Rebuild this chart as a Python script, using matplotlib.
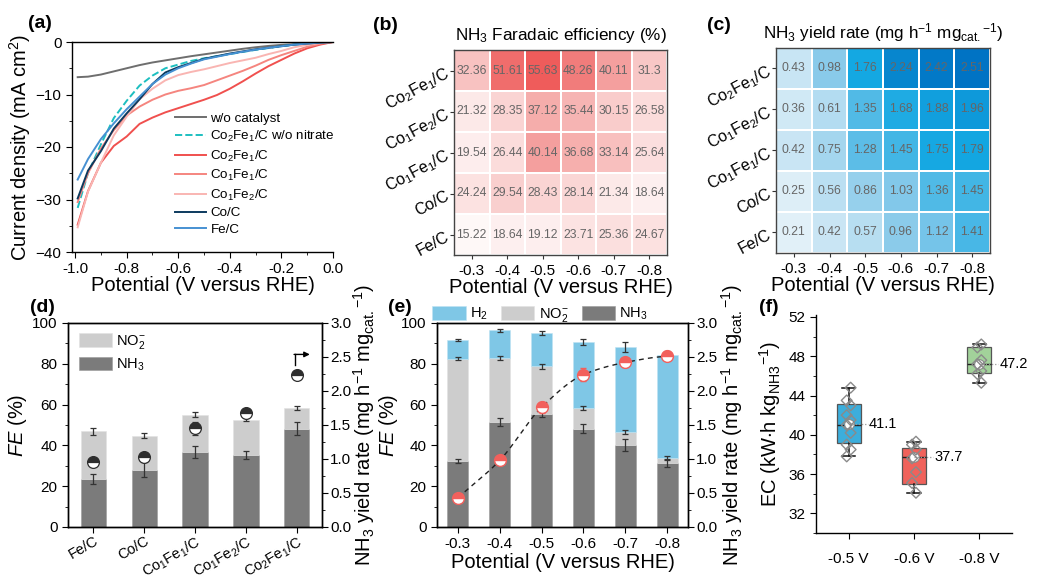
import numpy as np
import matplotlib
matplotlib.use('Agg')
import matplotlib.pyplot as plt
from matplotlib.colors import LinearSegmentedColormap, Normalize
from matplotlib.ticker import MultipleLocator

plt.rcParams['font.family'] = ['Liberation Sans', 'DejaVu Sans']
plt.rcParams['mathtext.fontset'] = 'custom'
plt.rcParams['mathtext.rm'] = 'Liberation Sans'
plt.rcParams['mathtext.it'] = 'Liberation Sans:italic'
plt.rcParams['mathtext.bf'] = 'Liberation Sans:bold'
plt.rcParams['xtick.direction'] = 'out'
plt.rcParams['ytick.direction'] = 'out'
plt.rcParams['axes.linewidth'] = 1.0

# ---------------- data ----------------
# (a) LSV curves
lsv_potential = [-0.99, -0.95, -0.90, -0.85, -0.80, -0.75, -0.70, -0.65, -0.60, -0.55, -0.50,
                 -0.45, -0.40, -0.35, -0.30, -0.25, -0.20, -0.15, -0.10, -0.05, 0.0]
j_blank = [-6.7, -6.6, -6.2, -5.6, -5.0, -4.4, -3.9, -3.5, -3.1, -2.7, -2.35,
           -2.0, -1.65, -1.3, -1.0, -0.75, -0.55, -0.4, -0.25, -0.12, 0.0]
j_co2fe1_no_nitrate = [-31.6, -25.0, -19.5, -14.5, -11.2, -8.3, -6.4, -5.0, -4.3, -3.6, -3.1,
                       -2.7, -2.3, -1.9, -1.5, -1.15, -0.8, -0.5, -0.28, -0.1, 0.0]
j_co2fe1 = [-34.8, -28.4, -23.0, -19.8, -18.0, -15.6, -14.4, -13.4, -12.6, -11.8, -11.0,
            -10.1, -8.9, -7.5, -6.0, -4.6, -3.4, -2.2, -1.2, -0.5, 0.0]
j_co1fe1 = [-30.5, -25.0, -20.3, -16.8, -14.0, -12.3, -11.0, -10.0, -9.3, -8.8, -8.2,
            -7.3, -6.4, -5.5, -4.5, -3.4, -2.5, -1.7, -0.9, -0.35, 0.0]
j_co1fe2 = [-35.3, -28.5, -23.0, -17.8, -14.2, -10.9, -8.9, -7.3, -6.3, -5.7, -5.2,
            -4.6, -4.0, -3.5, -3.0, -2.3, -1.7, -1.0, -0.55, -0.2, 0.0]
j_co = [-29.8, -24.5, -20.8, -16.5, -13.6, -10.9, -8.0, -5.8, -4.8, -4.0, -3.2,
        -2.7, -2.2, -1.8, -1.4, -1.1, -0.8, -0.5, -0.3, -0.12, 0.0]
j_fe = [-26.2, -22.3, -18.5, -15.5, -12.8, -10.4, -8.0, -6.2, -5.0, -4.1, -3.3,
        -2.8, -2.3, -1.85, -1.45, -1.1, -0.8, -0.5, -0.28, -0.1, 0.0]

# (b), (c) heatmaps
heat_potentials = ['-0.3', '-0.4', '-0.5', '-0.6', '-0.7', '-0.8']
heat_catalysts = ['Co$_2$Fe$_1$/C', 'Co$_1$Fe$_2$/C', 'Co$_1$Fe$_1$/C', 'Co/C', 'Fe/C']
fe_nh3 = [[32.36, 51.61, 55.63, 48.26, 40.11, 31.3],
          [21.32, 28.35, 37.12, 35.44, 30.15, 26.58],
          [19.54, 26.44, 40.14, 36.68, 33.14, 25.64],
          [24.24, 29.54, 28.43, 28.14, 21.34, 18.64],
          [15.22, 18.64, 19.12, 23.71, 25.36, 24.67]]
yield_nh3 = [[0.43, 0.98, 1.76, 2.24, 2.42, 2.51],
             [0.36, 0.61, 1.35, 1.68, 1.88, 1.96],
             [0.42, 0.75, 1.28, 1.45, 1.75, 1.79],
             [0.25, 0.56, 0.86, 1.03, 1.36, 1.45],
             [0.21, 0.42, 0.57, 0.96, 1.12, 1.41]]

# (d) catalysts at -0.6 V
d_catalysts = ['Fe/C', 'Co/C', 'Co$_1$Fe$_1$/C', 'Co$_1$Fe$_2$/C', 'Co$_2$Fe$_1$/C']
d_fe_nh3 = [23.71, 28.14, 36.68, 35.44, 48.26]
d_fe_nh3_err = [2.4, 3.5, 2.8, 2.0, 3.2]
d_fe_no2 = [23.2, 16.7, 18.4, 17.2, 10.0]
d_fe_no2_err = [1.6, 1.2, 1.3, 0.8, 1.0]
d_yield = [0.96, 1.03, 1.45, 1.68, 2.24]
d_yield_err = [0.03, 0.03, 0.10, 0.06, 0.06]

# (e) Co2Fe1/C vs potential
e_potentials = ['-0.3', '-0.4', '-0.5', '-0.6', '-0.7', '-0.8']
e_fe_nh3 = [32.36, 51.61, 55.63, 48.26, 40.11, 31.3]
e_fe_nh3_err = [1.2, 2.0, 1.5, 2.2, 3.0, 1.8]
e_fe_no2 = [50.1, 31.4, 23.1, 10.0, 6.4, 2.5]
e_fe_no2_err = [0.7, 1.0, 1.2, 0.9, 1.0, 1.0]
e_fe_h2 = [9.1, 13.5, 16.4, 32.5, 41.6, 50.5]
e_fe_h2_err = [0.4, 0.7, 0.9, 1.3, 2.4, 1.8]
e_yield = [0.43, 0.98, 1.76, 2.24, 2.42, 2.51]
e_yield_err = [0.03, 0.03, 0.08, 0.10, 0.06, 0.05]

# (f) energy consumption
f_labels = ['-0.5 V', '-0.6 V', '-0.8 V']
f_points = [[44.8, 43.5, 43.0, 42.0, 41.5, 41.0, 40.2, 39.0, 38.5, 37.8],
            [39.3, 39.0, 38.5, 37.6, 36.2, 35.1, 34.1],
            [49.2, 48.9, 47.6, 47.2, 46.5, 46.2, 45.3]]
f_q1 = [39.2, 35.0, 46.3]
f_median = [41.0, 37.7, 47.2]
f_q3 = [43.1, 38.7, 48.9]
f_whislo = [37.8, 34.1, 45.3]
f_whishi = [44.8, 39.3, 49.2]
f_mean = [41.1, 37.7, 47.2]

# ---------------- figure ----------------
W, H = 1041, 581
fig = plt.figure(figsize=(W / 100, H / 100), dpi=100)


def box(l, t, r, b):
    return [l / W, 1 - b / H, (r - l) / W, (b - t) / H]


TICK = 11
LAB = 14.5

# ---- (a)
ax = fig.add_axes(box(72, 42, 333, 252))
curves = [
    ('w/o catalyst', j_blank, '#6E6E6E', '-'),
    ('Co$_2$Fe$_1$/C w/o nitrate', j_co2fe1_no_nitrate, '#1DBFC0', '--'),
    ('Co$_2$Fe$_1$/C', j_co2fe1, '#F0504E', '-'),
    ('Co$_1$Fe$_1$/C', j_co1fe1, '#F5857F', '-'),
    ('Co$_1$Fe$_2$/C', j_co1fe2, '#F9B5B2', '-'),
    ('Co/C', j_co, '#0C3A5E', '-'),
    ('Fe/C', j_fe, '#4690D2', '-'),
]
for name, vals, col, ls in curves:
    ax.plot(lsv_potential, vals, color=col, ls=ls, lw=1.4, label=name)
ax.set_xlim(-1.012, 0.0)
ax.set_ylim(-40, 0)
ax.xaxis.set_major_locator(MultipleLocator(0.2))
ax.xaxis.set_minor_locator(MultipleLocator(0.1))
ax.yaxis.set_major_locator(MultipleLocator(10))
ax.yaxis.set_minor_locator(MultipleLocator(5))
ax.set_xticks(ax.get_xticks())
ax.set_xticklabels(['%.1f' % v for v in ax.get_xticks()])
ax.set_xlim(-1.012, 0.0)
ax.spines['right'].set_visible(False)
ax.tick_params(labelsize=TICK, length=4)
ax.tick_params(which='minor', length=2.5)
ax.set_xlabel('Potential (V versus RHE)', fontsize=LAB, labelpad=0)
ax.set_ylabel('Current density (mA cm$^2$)', fontsize=LAB, labelpad=2)
ax.legend(loc='upper left', bbox_to_anchor=(0.395, 0.665), frameon=False, fontsize=9.6,
          handlelength=2.3, handletextpad=0.35, labelspacing=0.33, borderpad=0, borderaxespad=0)


# ---- heatmaps
def heatmap(rect, data, cmap, norm, title):
    hx = fig.add_axes(rect)
    arr = np.array(data)
    hx.pcolormesh(arr, cmap=cmap, norm=norm, edgecolors='white', linewidth=1.3)
    for i in range(arr.shape[0]):
        for j in range(arr.shape[1]):
            hx.text(j + 0.5, i + 0.5, f'{arr[i, j]:g}', ha='center', va='center',
                    fontsize=8.7, color='#666666')
    hx.set_xlim(0, arr.shape[1])
    hx.set_ylim(arr.shape[0], 0)
    hx.set_xticks(np.arange(arr.shape[1]) + 0.5)
    hx.set_xticklabels(heat_potentials)
    hx.set_yticks(np.arange(arr.shape[0]) + 0.5)
    hx.set_yticklabels(heat_catalysts, rotation=28, ha='right', rotation_mode='anchor')
    hx.tick_params(labelsize=TICK, length=3, color='#333333')
    hx.tick_params(axis='y', labelsize=11.5, pad=2)
    for s in hx.spines.values():
        s.set_color('#444444')
    hx.set_xlabel('Potential (V versus RHE)', fontsize=LAB, labelpad=0)
    hx.set_title(title, fontsize=12.3, pad=7)
    return hx


cmap_fe = LinearSegmentedColormap.from_list('fe', ['#FFFFFF', '#FBDCDB', '#F39A98', '#EF5A5A'])
heatmap(box(454, 50, 667, 255), fe_nh3, cmap_fe, Normalize(12, 56),
        'NH$_3$ Faradaic efficiency (%)')
cmap_y = LinearSegmentedColormap.from_list(
    'yr', [(0.0, '#E2F0F8'), (0.34, '#88CAEA'), (0.675, '#14A8E2'), (1.0, '#0073C4')])
heatmap(box(776, 48, 990, 253), yield_nh3, cmap_y, Normalize(0.2, 2.51),
        'NH$_3$ yield rate (mg h$^{-1}$ mg$_{\\mathrm{cat.}}$$^{-1}$)')

C_NH3 = '#7B7B7B'
C_NO2 = '#CDCDCD'
C_H2 = '#7FC7E6'
EKW = dict(ecolor='#333333', elinewidth=0.9, capsize=2.5, capthick=0.9)
YLAB_R = 'NH$_3$ yield rate (mg h$^{-1}$ mg$_{\\mathrm{cat.}}$$^{-1}$)'

# ---- (d)
axd = fig.add_axes(box(68, 323, 322, 527))
xd = np.arange(len(d_catalysts))
nh3_d = np.array(d_fe_nh3)
axd.bar(xd, d_fe_nh3, width=0.5, color=C_NH3, edgecolor='#9A9A9A', linewidth=0.4,
        yerr=d_fe_nh3_err, error_kw=EKW, label='NH$_3$', zorder=2)
axd.bar(xd, d_fe_no2, width=0.5, bottom=nh3_d, color=C_NO2, edgecolor='#E2E2E2', linewidth=0.4,
        yerr=d_fe_no2_err, error_kw=EKW, label='NO$_2^{-}$', zorder=2)
axd.set_xlim(-0.5, 4.5)
axd.set_ylim(0, 100)
axd.yaxis.set_major_locator(MultipleLocator(20))
axd.yaxis.set_minor_locator(MultipleLocator(10))
axd.set_xticks(xd)
axd.set_xticklabels(d_catalysts, rotation=30, ha='right', rotation_mode='anchor')
axd.tick_params(labelsize=TICK, length=4)
axd.tick_params(axis='x', pad=1, labelsize=10.5)
axd.tick_params(which='minor', length=2.5)
axd.set_ylabel('$FE$ (%)', fontsize=LAB, labelpad=2)
h, l = axd.get_legend_handles_labels()
axd.legend(h[::-1], l[::-1], loc='upper left', bbox_to_anchor=(0.045, 0.95), frameon=False,
           fontsize=10.5, handlelength=2.2, handleheight=1.05, handletextpad=0.3,
           labelspacing=0.35, borderpad=0, borderaxespad=0)
axd2 = axd.twinx()
axd2.errorbar(xd, d_yield, yerr=d_yield_err, fmt='o', ms=8.5, mfc='#2E2E2E', mfcalt='white',
              fillstyle='top', mec='#2E2E2E', mew=0.9, zorder=5, **EKW)
axd2.set_ylim(0, 3.0)
axd2.yaxis.set_major_locator(MultipleLocator(0.5))
axd2.yaxis.set_minor_locator(MultipleLocator(0.25))
axd2.set_yticks(axd2.get_yticks())
axd2.set_yticklabels(['%.1f' % v for v in axd2.get_yticks()])
axd2.set_ylim(0, 3.0)
axd2.tick_params(labelsize=TICK, length=4, pad=2)
axd2.tick_params(which='minor', length=2.5)
axd2.set_ylabel(YLAB_R, fontsize=LAB, labelpad=0)
# arrow pointing to right axis
axd.plot([3.96, 3.96], [79.4, 84.6], color='black', lw=1.0, zorder=6)
axd.annotate('', xy=(4.26, 84.6), xytext=(3.95, 84.6),
             arrowprops=dict(arrowstyle='-|>', color='black', lw=1.0, mutation_scale=8,
                             shrinkA=0, shrinkB=0), zorder=6)

# ---- (e)
axe = fig.add_axes(box(437, 323, 688, 527))
xe = np.arange(len(e_potentials))
nh3_e = np.array(e_fe_nh3)
no2_e = np.array(e_fe_no2)
axe.bar(xe, e_fe_nh3, width=0.5, color=C_NH3, edgecolor='#9A9A9A', linewidth=0.4,
        yerr=e_fe_nh3_err, error_kw=EKW, label='NH$_3$', zorder=2)
axe.bar(xe, e_fe_no2, width=0.5, bottom=nh3_e, color=C_NO2, edgecolor='#E2E2E2', linewidth=0.4,
        yerr=e_fe_no2_err, error_kw=EKW, label='NO$_2^{-}$', zorder=2)
axe.bar(xe, e_fe_h2, width=0.5, bottom=nh3_e + no2_e, color=C_H2, edgecolor='#BFE3F2',
        linewidth=0.4, yerr=e_fe_h2_err, error_kw=EKW, label='H$_2$', zorder=2)
axe.set_xlim(-0.5, 5.5)
axe.set_ylim(0, 100)
axe.yaxis.set_major_locator(MultipleLocator(20))
axe.yaxis.set_minor_locator(MultipleLocator(10))
axe.set_xticks(xe)
axe.set_xticklabels(e_potentials)
axe.tick_params(labelsize=TICK, length=4)
axe.tick_params(which='minor', length=2.5)
axe.set_ylabel('$FE$ (%)', fontsize=LAB, labelpad=1)
axe.set_xlabel('Potential (V versus RHE)', fontsize=LAB, labelpad=1)
h, l = axe.get_legend_handles_labels()
axe.legend(h[::-1], l[::-1], loc='lower left', bbox_to_anchor=(-0.02, 0.995), ncol=3,
           frameon=False, fontsize=10.5, handlelength=2.3, handleheight=1.1, handletextpad=0.3,
           columnspacing=0.9, borderpad=0, borderaxespad=0)
axe2 = axe.twinx()


def pchip(x, y, xs):
    x = np.asarray(x, float)
    y = np.asarray(y, float)
    hk = np.diff(x)
    dk = np.diff(y) / hk
    m = np.zeros_like(y)
    for k in range(1, len(y) - 1):
        if dk[k - 1] * dk[k] > 0:
            w1 = 2 * hk[k] + hk[k - 1]
            w2 = hk[k] + 2 * hk[k - 1]
            m[k] = (w1 + w2) / (w1 / dk[k - 1] + w2 / dk[k])
    m[0] = dk[0]
    m[-1] = dk[-1] * 0.3
    out = np.empty_like(xs)
    for i, xv in enumerate(xs):
        k = min(np.searchsorted(x, xv, side='right') - 1, len(x) - 2)
        t = (xv - x[k]) / hk[k]
        h00 = 2 * t ** 3 - 3 * t ** 2 + 1
        h10 = t ** 3 - 2 * t ** 2 + t
        h01 = -2 * t ** 3 + 3 * t ** 2
        h11 = t ** 3 - t ** 2
        out[i] = h00 * y[k] + h10 * hk[k] * m[k] + h01 * y[k + 1] + h11 * hk[k] * m[k + 1]
    return out


xs = np.linspace(0, len(e_yield) - 1, 200)
axe2.plot(xs, pchip(xe, e_yield, xs), ls=(0, (3.5, 3)), color='#222222', lw=1.0, zorder=3)
axe2.errorbar(xe, e_yield, yerr=e_yield_err, fmt='o', ms=8.5, mfc='#F2605C', mfcalt='white',
              fillstyle='top', mec='#F2605C', mew=1.0, ecolor='#F2605C', elinewidth=0.9,
              capsize=2.5, capthick=0.9, zorder=5)
axe2.set_ylim(0, 3.0)
axe2.yaxis.set_major_locator(MultipleLocator(0.5))
axe2.yaxis.set_minor_locator(MultipleLocator(0.25))
axe2.set_yticks(axe2.get_yticks())
axe2.set_yticklabels(['%.1f' % v for v in axe2.get_yticks()])
axe2.set_ylim(0, 3.0)
axe2.tick_params(labelsize=TICK, length=4, pad=2)
axe2.tick_params(which='minor', length=2.5)
axe2.set_ylabel(YLAB_R, fontsize=LAB, labelpad=1)

# ---- (f)
axf = fig.add_axes(box(816, 315, 1012, 533))
stats = []
for i in range(len(f_labels)):
    stats.append(dict(med=f_median[i], q1=f_q1[i], q3=f_q3[i], whislo=f_whislo[i],
                      whishi=f_whishi[i], mean=f_mean[i], fliers=[]))
pos = np.arange(len(f_labels))
bp = axf.bxp(stats, positions=pos, widths=0.37, patch_artist=True, showmeans=True,
             capwidths=0.2,
             boxprops=dict(edgecolor='#555555', linewidth=0.9),
             medianprops=dict(color='#222222', linewidth=1.0),
             whiskerprops=dict(color='#111111', linewidth=1.1),
             capprops=dict(color='#111111', linewidth=1.1),
             meanprops=dict(marker='o', markerfacecolor='white', markeredgecolor='#888888',
                            markersize=7, markeredgewidth=0.8),
             zorder=2)
for patch, col in zip(bp['boxes'], ['#3CAEDC', '#F0625B', '#A2D29A']):
    patch.set_facecolor(col)
offs = [0.03, -0.03]
for i, pts in enumerate(f_points):
    xo = [pos[i] + offs[k % 2] for k in range(len(pts))]
    axf.scatter(xo, pts, marker='D', s=30, facecolors='none', edgecolors='#8A8A8A',
                linewidths=1.0, zorder=4)
    axf.plot([pos[i], pos[i] + 0.29], [f_mean[i], f_mean[i]], ls=(0, (1, 1.5)),
             color='#999999', lw=0.9, zorder=3)
    axf.text(pos[i] + 0.31, f_mean[i], f'{f_mean[i]:.1f}', va='center', ha='left', fontsize=10.5)
axf.set_xlim(-0.5, 2.5)
axf.set_ylim(30, 52.2)
axf.yaxis.set_major_locator(MultipleLocator(4))
axf.yaxis.set_minor_locator(MultipleLocator(2))
axf.set_xticks(pos)
axf.set_xticklabels(f_labels)
axf.spines['top'].set_visible(False)
axf.spines['right'].set_visible(False)
axf.tick_params(labelsize=TICK, length=4)
axf.tick_params(axis='x', pad=10)
axf.tick_params(which='minor', length=2.5)
axf.set_ylabel('EC (kW$\\cdot$h kg$_{\\mathrm{NH3}}$$^{-1}$)', fontsize=LAB, labelpad=4)

# ---- panel labels
for txt, x, y in [('(a)', 28, 28), ('(b)', 373, 30), ('(c)', 707, 30),
                  ('(d)', 30, 312), ('(e)', 388, 312), ('(f)', 759, 312)]:
    fig.text(x / W, 1 - y / H, txt, fontsize=14, fontweight='bold', ha='left', va='baseline')

fig.savefig('out.png', dpi=100)
